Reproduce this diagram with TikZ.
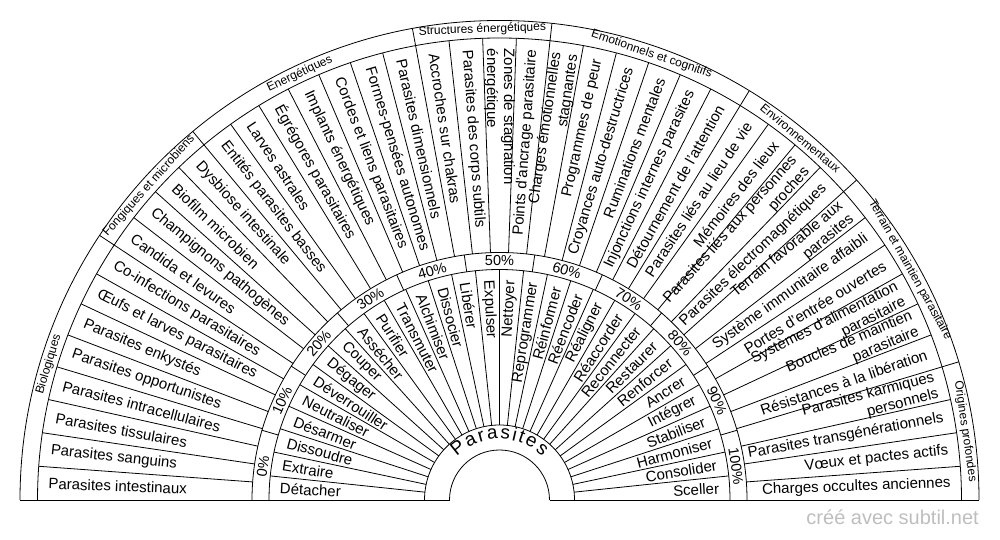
\documentclass[tikz,border=0pt]{standalone}
\usepackage{fontspec}
\setmainfont{Liberation Sans}
\definecolor{wm}{RGB}{190,190,190}
\begin{document}
\begin{tikzpicture}[x=1pt,y=1pt,
  ln/.style={line width=0.8pt,draw=black},
  itemtxt/.style={font=\fontsize{15}{17}\selectfont,inner sep=0pt},
  pcttxt/.style={font=\fontsize{14.5}{17}\selectfont,inner sep=0pt},
  cattxt/.style={font=\fontsize{12}{14}\selectfont,inner sep=0pt},
  ctrtxt/.style={font=\fontsize{19}{22}\selectfont,inner sep=0pt,anchor=base},
  wmtxt/.style={font=\fontsize{20}{24}\selectfont,inner sep=0pt,text=wm}]
\useasboundingbox (0,0) rectangle (1000,540);
\coordinate (C) at (499.5,40);
% arcs
\foreach \rr in {50,75,230.5,247.5,462,479.5}
  \draw[ln] ([shift={(0:\rr pt)}]C) arc[start angle=0,end angle=180,radius=\rr pt];
% base lines
\draw[ln] ([shift={(180:50pt)}]C) -- ([shift={(180:479.5pt)}]C);
\draw[ln] ([shift={(0:50pt)}]C) -- ([shift={(0:479.5pt)}]C);
% action separators
\foreach \k in {1,...,29}
  \draw[ln] ([shift={(\k*6:75pt)}]C) -- ([shift={(\k*6:230.5pt)}]C);
% percent separators
\foreach \k in {1,...,10}
  \draw[ln] ([shift={(\k*180/11:230.5pt)}]C) -- ([shift={(\k*180/11:247.5pt)}]C);
% item separators
\foreach \k in {1,...,42}
  \draw[ln] ([shift={(\k*180/43:247.5pt)}]C) -- ([shift={(\k*180/43:462pt)}]C);
% category separators
\foreach \k in {8,12,19,23,29,33,39}
  \draw[ln] ([shift={(180-\k*180/43:462pt)}]C) -- ([shift={(180-\k*180/43:479.5pt)}]C);
% items
\foreach \t [count=\i from 0] in {Parasites intestinaux,Parasites sanguins,Parasites tissulaires,Parasites intracellulaires,Parasites opportunistes,Parasites enkystés,Œufs et larves parasitaires,Co-infections parasitaires,Candida et levures,Champignons pathogènes,Biofilm microbien,Dysbiose intestinale,Entités parasites basses,Larves astrales,Égrégores parasitaires,Implants énergétiques,Cordes et liens parasitaires,Formes-pensées autonomes,Parasites dimensionnels,Accroches sur chakras,Parasites des corps subtils,{Zones de stagnation\\énergétique},Points d'ancrage parasitaire,{Charges émotionnelles\\stagnantes},Programmes de peur,Croyances auto-destructrices,Ruminations mentales,Injonctions internes parasites,Détournement de l'attention,Parasites liés au lieu de vie,Mémoires des lieux,{Parasites liés aux personnes\\proches},Parasites électromagnétiques,{Terrain favorable aux\\parasites},Système immunitaire affaibli,Portes d'entrée ouvertes,{Systèmes d'alimentation\\parasitaire},{Boucles de maintien\\parasitaire},Résistances à la libération,{Parasites karmiques\\personnels},Parasites transgénérationnels,Vœux et pactes actifs,Charges occultes anciennes}{
  \pgfmathsetmacro\a{180-(\i+0.5)*180/43}
  \ifnum\i<22
    \node[itemtxt,anchor=west,align=left,rotate=\a-180] (it\i) at ([shift={(\a:451.5pt)}]C) {\t};
  \else
    \node[itemtxt,anchor=east,align=right,rotate=\a] (it\i) at ([shift={(\a:451.5pt)}]C) {\t};
  \fi
}
% actions
\foreach \t [count=\i from 0] in {Détacher,Extraire,Dissoudre,Désarmer,Neutraliser,Déverrouiller,Dégager,Couper,Assécher,Purifier,Transmuter,Alchimiser,Dissocier,Libérer,Expulser,Nettoyer,Reprogrammer,Réinformer,Réencoder,Réaligner,Réaccorder,Reconnecter,Restaurer,Renforcer,Ancrer,Intégrer,Stabiliser,Harmoniser,Consolider,Sceller}{
  \pgfmathsetmacro\a{180-(\i+0.5)*6}
  \ifnum\i<15
    \node[itemtxt,anchor=west,rotate=\a-180] (ac\i) at ([shift={(\a:220pt)}]C) {\t};
  \else
    \node[itemtxt,anchor=east,rotate=\a] (ac\i) at ([shift={(\a:220pt)}]C) {\t};
  \fi
}
% percents
\foreach \i in {0,...,10}{
  \pgfmathsetmacro\a{180-(\i+0.5)*180/11}
  \pgfmathtruncatemacro\p{\i*10}
  \node[pcttxt,rotate=\a-90] (pc\i) at ([shift={(\a:239pt)}]C) {\p\%};
}
% categories
\foreach \s/\e/\t [count=\i] in {0/8/Biologiques,8/12/Fongiques et microbiens,12/19/Energétiques,19/23/Structures énergétiques,23/29/Emotionnels et cognitifs,29/33/Environnementaux,33/39/Terrain et maintien parasitaire,39/43/Origines profondes}{
  \pgfmathsetmacro\a{180-(\s+\e)*90/43}
  \node[cattxt,rotate=\a-90] (cat\i) at ([shift={(\a:470.75pt)}]C) {\t};
}
% center title
\foreach \ch/\ang [count=\i] in {P/128.52,a/115.78,r/106.03,a/96.28,s/85.03,i/76.77,t/70.49,e/61.22,s/49.98}
  \node[ctrtxt,rotate=\ang-90] (ch\i) at ([shift={(\ang:61pt)}]C) {\ch};
% watermark
\node[wmtxt,anchor=base east] (wmark) at (979,15) {créé avec subtil.net};
\end{tikzpicture}
\end{document}
